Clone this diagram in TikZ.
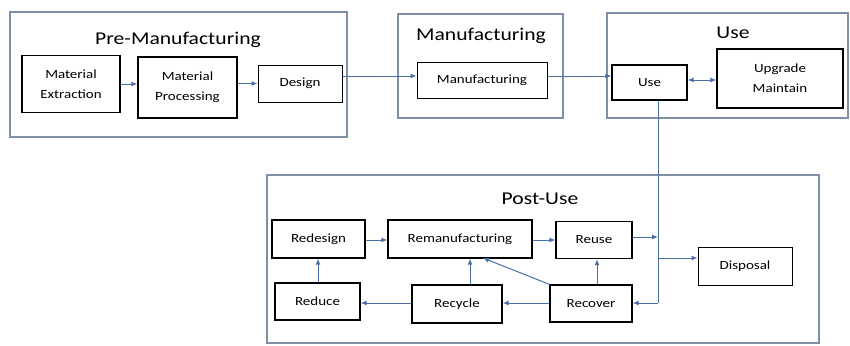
\documentclass[tikz,border=0pt]{standalone}
\usepackage{fontspec}
\setmainfont[FakeStretch=1.2]{Carlito}
\usetikzlibrary{arrows.meta}
\definecolor{frame}{HTML}{7F8FA6}
\definecolor{arr}{HTML}{4A6FA5}
\tikzset{
  outer/.style={draw=frame, line width=1.3pt},
  blk/.style={draw=black, line width=1.4pt, align=center, font=\fontsize{12.5}{20}\selectfont, inner sep=0pt},
  ttl/.style={font=\fontsize{18}{20}\selectfont},
  con/.style={draw=arr, line width=1pt, -{Latex[length=6pt,width=5pt]}},
}
\begin{document}
\begin{tikzpicture}[x=1pt,y=-1pt]
\useasboundingbox (0,0) rectangle (850,345);
% outer frames
\draw[outer] (10,12) rectangle (347,137);
\draw[outer] (398,14) rectangle (563,118);
\draw[outer] (607,13) rectangle (848,118);
\draw[outer] (267,175) rectangle (819,343);
\node[ttl] (tpre) at (178,40) {Pre-Manufacturing};
\node[ttl] (tman) at (481,36) {Manufacturing};
\node[ttl] (tuse) at (733,33) {Use};
\node[ttl] (tpost) at (540,199) {Post-Use};
% pre-manufacturing
\node[blk, minimum width=98, minimum height=57] (ext) at (71,84) {Material\\Extraction};
\node[blk, minimum width=99, minimum height=61] (proc) at (187.5,87.5) {Material\\Processing};
\node[blk, line width=1pt, minimum width=84, minimum height=37] (des) at (300,83.5) {Design};
% manufacturing
\node[blk, line width=1pt, minimum width=130, minimum height=36] (man) at (482,80) {Manufacturing};
% use
\node[blk, minimum width=75, minimum height=35] (use) at (649.5,82.5) {Use};
\node[blk, minimum width=126, minimum height=59] (upg) at (780,78.5) {Upgrade\\Maintain};
% post-use
\node[blk, minimum width=93, minimum height=38] (red) at (318.5,239) {Redesign};
\node[blk, minimum width=144, minimum height=38] (rem) at (460,239) {Remanufacturing};
\node[blk, minimum width=76, minimum height=37] (reu) at (594,240) {Reuse};
\node[blk, minimum width=85, minimum height=37] (rdc) at (317.5,301.5) {Reduce};
\node[blk, minimum width=90, minimum height=38] (rec) at (457,304) {Recycle};
\node[blk, minimum width=82, minimum height=37] (rcv) at (591,303.5) {Recover};
\node[blk, line width=1pt, minimum width=94, minimum height=38] (dis) at (745,266) {Disposal};
% connectors
\draw[con] (ext.east |- 0,84) -- (proc.west |- 0,84);
\draw[con] (proc.east |- 0,83.5) -- (des.west |- 0,83.5);
\draw[con] (des.east |- 0,76) -- (man.west |- 0,76);
\draw[con] (man.east |- 0,76) -- (use.west |- 0,76);
\draw[draw=arr, line width=1pt, {Latex[length=6pt,width=5pt]}-{Latex[length=6pt,width=5pt]}] (use.east |- 0,80) -- (upg.west |- 0,80);
\coordinate (vbot) at (658,303);
\coordinate (vreu) at (658,237);
\coordinate (vdis) at (658,258);
\draw[draw=arr, line width=1pt] (658,0 |- use.south) -- (vbot);
\draw[con] (vbot) -- (rcv.east |- vbot);
\draw[con] (reu.east |- vreu) -- (vreu);
\draw[con] (vdis) -- (dis.west |- vdis);
\draw[con] (red.east |- 0,240) -- (rem.west |- 0,240);
\draw[con] (rem.east |- 0,240) -- (reu.west |- 0,240);
\draw[con] (rdc.north -| 318,0) -- (red.south -| 318,0);
\draw[con] (rec.north -| 470,0) -- (rem.south -| 470,0);
\draw[con] (rcv.north west) -- (483,258);
\draw[con] (rcv.west |- 0,303) -- (rec.east |- 0,303);
\draw[con] (rec.west |- 0,303) -- (rdc.east |- 0,303);
\draw[con] (rcv.north -| 597,0) -- (reu.south -| 597,0);
\end{tikzpicture}
\end{document}
